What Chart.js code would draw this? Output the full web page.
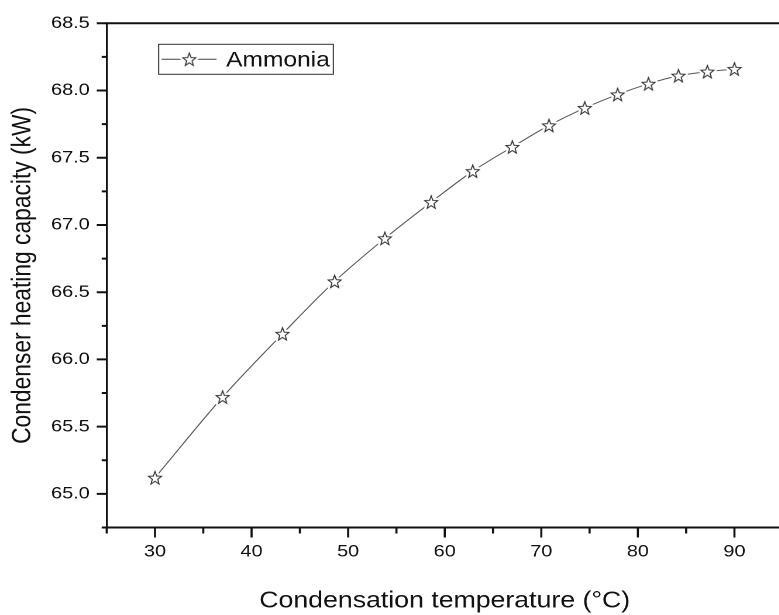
<!DOCTYPE html>
<html>
<head>
<meta charset="utf-8">
<script src="https://cdn.jsdelivr.net/npm/chart.js@4.4.1/dist/chart.umd.min.js"></script>
<style>
  html, body { margin: 0; padding: 0; background: #fff; }
  #wrap { width: 779px; height: 615px; overflow: hidden; position: relative; }
  /* the plot is drawn narrow and widened by 1.17 to get the wide Origin look */
  #cv { position: absolute; left: 0; top: 0; transform: scaleX(1.17); transform-origin: 0 0; }
</style>
</head>
<body>
<div id="wrap"><canvas id="cv"></canvas></div>
<script>
// condensation temperature (C) vs condenser heating capacity (kW)
var temps    = [30, 37, 43.2, 48.6, 53.8, 58.6, 62.9, 67.0, 70.8, 74.5, 77.9, 81.1, 84.2, 87.2, 90];
var capacity = [65.12, 65.72, 66.19, 66.58, 66.90, 67.17, 67.40, 67.58, 67.74, 67.87, 67.97, 68.05, 68.11, 68.14, 68.16];
var seriesName = 'Ammonia';
var xTitle = 'Condensation temperature (\u00B0C)';
var yTitle = 'Condenser heating capacity (kW)';

var FONT = '"Liberation Sans", Arial, sans-serif';
var INK = '#111';

// outline star with a white halo so the line breaks around it
function makeStar(done) {
  var S = 22, k = 2;
  var c = document.createElement('canvas');
  c.width = S * k; c.height = S * k;
  var g = c.getContext('2d');
  g.scale(k, k);
  var cx = S / 2, cy = S / 2 + 0.6, rx = 5.85, ry = 6.9;
  g.beginPath();
  for (var i = 0; i < 10; i++) {
    var a = -Math.PI / 2 + i * Math.PI / 5;
    var r = (i % 2) ? 0.42 : 1;
    g.lineTo(cx + Math.cos(a) * rx * r, cy + Math.sin(a) * ry * r);
  }
  g.closePath();
  g.fillStyle = '#fff';
  g.strokeStyle = '#fff';
  g.lineWidth = 5;
  g.lineJoin = 'round';
  g.stroke();
  g.fill();
  g.strokeStyle = '#2a2a2a';
  g.lineWidth = 0.9;
  g.lineJoin = 'miter';
  g.stroke();
  var img = new Image();
  img.onload = function(){ img.width = S; img.height = S; done(img); };
  img.src = c.toDataURL();
}

function isMajorY(v){ return Math.round(v * 100) % 50 === 0; }
function isMajorX(v){ return Math.round(v) % 10 === 0; }

// top frame line plus Origin style in/out tick marks
var framePlugin = {
  id: 'frame',
  afterDraw: function(chart) {
    var ctx = chart.ctx, a = chart.chartArea;
    var xs = chart.scales.x, ys = chart.scales.y;
    ctx.save();
    ctx.strokeStyle = INK;
    ctx.lineWidth = 2;
    ctx.beginPath();
    ctx.moveTo(a.left - 1, a.top);
    ctx.lineTo(a.right, a.top);
    ctx.stroke();

    ctx.lineWidth = 1.8;
    ctx.beginPath();
    xs.ticks.forEach(function(t){
      var px = xs.getPixelForValue(t.value);
      var len = isMajorX(t.value) ? 10 : 6;
      ctx.moveTo(px, a.bottom);
      ctx.lineTo(px, a.bottom + len);
    });
    ctx.stroke();

    ctx.lineWidth = 2;
    ctx.beginPath();
    ys.ticks.forEach(function(t){
      var py = ys.getPixelForValue(t.value);
      var len = isMajorY(t.value) ? 8.5 : 4.3;
      ctx.moveTo(a.left, py);
      ctx.lineTo(a.left - len, py);
    });
    ctx.stroke();
    ctx.restore();
  }
};

// boxed legend inside the plot
var legendPlugin = {
  id: 'boxLegend',
  afterDraw: function(chart) {
    var ctx = chart.ctx, a = chart.chartArea;
    var ds = chart.data.datasets[0];
    var bx = a.left + 44.4, by = a.top + 21, bw = 149.3, bh = 30;
    var my = by + bh / 2;
    ctx.save();
    ctx.strokeStyle = '#333';
    ctx.lineWidth = 1;
    ctx.strokeRect(bx, by, bw, bh);
    ctx.strokeStyle = '#444';
    ctx.beginPath();
    ctx.moveTo(bx + 2.5, my);
    ctx.lineTo(bx + 49.5, my);
    ctx.stroke();
    var st = ds.pointStyle;
    ctx.drawImage(st, bx + 26.2 - st.width / 2, my - st.height / 2, st.width, st.height);
    ctx.fillStyle = INK;
    ctx.font = '21px ' + FONT;
    ctx.textBaseline = 'middle';
    ctx.fillText(ds.label, bx + 57.6, my + 1.5);
    ctx.restore();
  }
};

function drawChart(star) {
  var points = temps.map(function(t, i){ return { x: t, y: capacity[i] }; });
  var cv = document.getElementById('cv');
  cv.width = 676; cv.height = 615;
  cv.style.width = '676px'; cv.style.height = '615px';

  new Chart(cv, {
    type: 'line',
    data: {
      datasets: [{
        label: seriesName,
        data: points,
        borderColor: '#555',
        borderWidth: 1,
        tension: 0.4,
        cubicInterpolationMode: 'monotone',
        pointStyle: star,
        pointRadius: 6,
        pointHoverRadius: 6,
        fill: false
      }]
    },
    options: {
      responsive: false,
      animation: false,
      devicePixelRatio: 2,
      events: [],
      layout: { padding: { top: 23.3, left: 0, right: 0, bottom: 0 } },
      plugins: { legend: { display: false }, tooltip: { enabled: false } },
      scales: {
        x: {
          type: 'linear',
          min: 25, max: 95,
          afterFit: function(s){ s.height = 87.5; },
          border: { display: true, color: INK, width: 2 },
          grid: { display: true, drawOnChartArea: false, tickLength: 10, tickColor: 'rgba(0,0,0,0)' },
          ticks: {
            stepSize: 5, autoSkip: false, maxRotation: 0, includeBounds: false,
            padding: 4, color: INK, font: { family: FONT, size: 17 },
            callback: function(v){ return isMajorX(v) ? String(v) : ''; }
          },
          title: {
            display: true, text: xTitle, color: INK,
            font: { family: FONT, size: 22.8 }, padding: { top: 0, bottom: 0 }
          }
        },
        y: {
          min: 64.75, max: 68.5,
          afterFit: function(s){ s.width = 91.2; },
          border: { display: true, color: INK, width: 1.7 },
          grid: { display: true, drawOnChartArea: false, tickLength: 8.5, tickColor: 'rgba(0,0,0,0)' },
          ticks: {
            stepSize: 0.25, autoSkip: false, includeBounds: false,
            padding: 6, color: INK, font: { family: FONT, size: 17 },
            callback: function(v){ return isMajorY(v) ? v.toFixed(1) : ''; }
          },
          title: {
            display: true, text: yTitle, color: INK,
            font: { family: FONT, size: 22.8 }, padding: { top: 6, bottom: 0 }
          }
        }
      }
    },
    plugins: [framePlugin, legendPlugin]
  });
}

makeStar(drawChart);
</script>
</body>
</html>
